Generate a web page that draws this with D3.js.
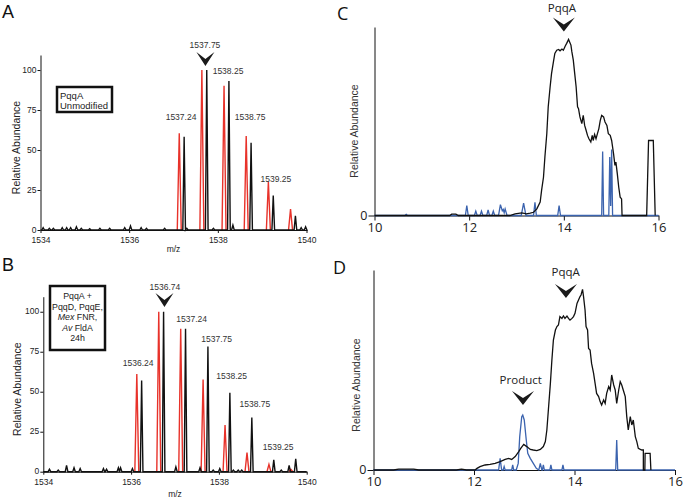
<!DOCTYPE html>
<html><head><meta charset="utf-8">
<script src="https://cdn.jsdelivr.net/npm/d3@7"></script>
<style>
body{margin:0;background:#fff;}
svg{display:block;font-family:"Liberation Sans",Arial,sans-serif;}
</style></head><body>
<svg id="chart" width="683" height="500"></svg>
<script>
// ---------------- DATA ----------------
const mzTicks = [1534, 1536, 1538, 1540];
const abundTicks = [0, 25, 50, 75, 100];
const timeTicks = [10, 12, 14, 16];
const zeroTick = [0];

// Panel A: PqqA unmodified
const aBlackMz = [1537.24, 1537.75, 1538.25, 1538.75, 1539.25, 1539.75];
const aBlackAb = [58.3, 100, 93.1, 54.6, 21.5, 8.8];
const aRedMz = [1537.13, 1537.64, 1538.14, 1538.64, 1539.14, 1539.64];
const aRedAb = [60.4, 100, 90.2, 58.8, 30.2, 13.1];
const aNoiseMz = [1534.06, 1534.20, 1534.29, 1534.49, 1534.59, 1534.68, 1534.81, 1534.92, 1535.11, 1535.34, 1535.56, 1535.90, 1536.03, 1536.27, 1536.39, 1536.80, 1537.30, 1537.90, 1538.34, 1539.88, 1539.98];
const aNoiseAb = [1.5, 1, 1, 1.5, 1.5, 1.5, 2, 1, 0.8, 1, 1, 1.5, 2.5, 1.5, 1, 1, 1, 1, 3, 1.5, 2];
const aLabels = ["1537.24", "1537.75", "1538.25", "1538.75", "1539.25"];
const aBoxLines = ["PqqA", "Unmodified"];

// Panel B: PqqA + PqqD, PqqE, Mex FNR, Av FldA, 24h
const bBlackMz = [1536.24, 1536.74, 1537.24, 1537.75, 1538.25, 1538.75, 1539.25, 1539.60, 1539.75];
const bBlackAb = [57, 100, 89.4, 78.3, 49.4, 33.8, 7.5, 4, 8.1];
const bRedMz = [1536.13, 1536.63, 1537.13, 1537.64, 1538.14, 1538.64, 1539.14, 1539.64];
const bRedAb = [61, 100, 89.4, 57.7, 29.2, 11.9, 4.6, 1.5];
const bNoiseMz = [1534.14, 1534.34, 1534.53, 1534.70, 1534.84, 1535.37, 1535.44, 1535.71, 1535.76, 1536.03, 1537.02, 1537.57, 1537.87, 1538.02, 1538.33, 1538.44, 1538.52, 1539.42];
const bNoiseAb = [1.5, 1, 4, 2.5, 2, 2, 1.5, 2.5, 2.5, 2, 3, 2.5, 1, 2, 1, 1, 1, 1];
const bLabels = ["1536.24", "1536.74", "1537.24", "1537.75", "1538.25", "1538.75", "1539.25"];
const bBoxLines = [["PqqA +"], ["PqqD, PqqE,"], ["Mex", " FNR,"], ["Av", " FldA"], ["24h"]];

// Panel C: extracted ion chromatograms (time, relative abundance)
const cBlack = [[10.0,0],[11.59,0],[11.63,0.7],[11.72,0.7],[11.77,0],[12.86,0],[12.97,0.9],[13.11,1.4],[13.21,0.9],[13.29,1.2],[13.36,1.7],[13.43,3.5],[13.50,7.1],[13.53,13.3],[13.57,20.3],[13.60,31.0],[13.64,43.4],[13.67,57.6],[13.71,68.2],[13.74,75.3],[13.78,81.5],[13.81,86.0],[13.85,87.7],[13.89,88.1],[13.92,87.4],[13.96,88.3],[13.99,87.7],[14.03,89.9],[14.06,91.3],[14.10,93.4],[14.12,92.2],[14.15,90.4],[14.17,86.8],[14.20,82.4],[14.23,75.3],[14.26,68.2],[14.29,57.6],[14.31,56.7],[14.34,52.3],[14.38,48.7],[14.41,53.1],[14.44,47.8],[14.47,45.2],[14.50,42.5],[14.53,40.7],[14.57,39.0],[14.60,42.5],[14.62,39.8],[14.65,43.0],[14.68,40.7],[14.71,43.4],[14.74,46.1],[14.77,50.5],[14.80,53.1],[14.84,52.3],[14.87,49.6],[14.91,47.8],[14.94,43.4],[14.98,42.5],[15.01,39.8],[15.05,32.8],[15.08,26.6],[15.10,28.3],[15.13,22.1],[15.16,15.0],[15.19,9.7],[15.22,8.8],[15.23,0],[15.75,0],[15.79,39.8],[15.89,39.8],[15.93,0]];
const cBlue = [[10.0,0],[10.64,0],[10.67,0.6],[10.70,0],[11.92,0],[11.95,5.3],[11.98,0],[12.11,0],[12.14,2.3],[12.17,0],[12.23,0],[12.26,2.3],[12.29,0],[12.37,0],[12.40,3.0],[12.43,0],[12.48,0],[12.51,2.3],[12.54,0],[12.62,0],[12.66,5.8],[12.70,2.5],[12.72,3.2],[12.74,1.5],[12.76,3.5],[12.80,0],[13.10,0],[13.15,6.6],[13.20,0],[13.36,0],[13.39,7.0],[13.42,0],[13.87,0],[13.90,5.2],[13.93,0],[14.80,0],[14.82,34],[14.84,0],[14.95,0],[14.97,31],[14.99,5],[15.01,35],[15.03,0],[16,0]];

// Panel D
const dBlack = [[10.0,0],[10.4,0],[10.5,0.4],[10.8,0.4],[10.9,0],[11.65,0],[11.75,0.4],[11.85,0],[12.02,0],[12.06,0.8],[12.12,1.7],[12.22,2.5],[12.32,2.8],[12.42,3.3],[12.52,4.2],[12.62,5.3],[12.69,5.8],[12.75,5.3],[12.82,6.7],[12.89,9.2],[12.93,10.8],[12.99,12.8],[13.05,11.7],[13.12,10.3],[13.18,10.0],[13.25,9.7],[13.32,10.3],[13.38,11.7],[13.42,14.2],[13.45,20],[13.48,30],[13.52,43.3],[13.55,55],[13.58,65],[13.62,70],[13.65,71.7],[13.68,72.5],[13.71,76.7],[13.75,75.8],[13.78,77],[13.81,75.8],[13.85,77],[13.88,75.8],[13.91,75],[13.95,75.8],[13.98,76.7],[14.01,78.3],[14.05,83.3],[14.08,85],[14.11,86.7],[14.13,87.5],[14.16,90.3],[14.18,86.7],[14.21,80],[14.23,71.7],[14.26,70],[14.28,60.8],[14.31,60],[14.34,53.3],[14.38,48.3],[14.41,43.3],[14.44,38.3],[14.48,36.7],[14.51,34.2],[14.54,32.5],[14.58,35],[14.61,33.3],[14.64,38.3],[14.68,41.7],[14.71,40],[14.74,47.5],[14.78,42.5],[14.81,40],[14.84,33.3],[14.88,40],[14.91,44.2],[14.94,42.5],[14.97,40],[15.01,36.7],[15.04,26.7],[15.07,20],[15.11,26.7],[15.14,22.5],[15.17,25],[15.21,16.7],[15.24,14.2],[15.27,10.8],[15.31,10.3],[15.34,10],[15.37,10],[15.37,0],[15.40,0],[15.405,8.3],[15.505,8.3],[15.52,0]];
const dBlue = [[10,0],[12.49,0],[12.52,5.8],[12.55,0],[12.58,0],[12.60,1.7],[12.62,0],[12.75,0],[12.77,2.5],[12.79,0],[12.84,0],[12.88,3.3],[12.91,16.7],[12.95,26.7],[12.97,27.5],[13.0,25],[13.04,15],[13.07,8.3],[13.12,5.8],[13.18,3.3],[13.24,0.8],[13.29,0],[13.32,3.3],[13.35,0],[13.36,0],[13.38,2.5],[13.40,0],[13.51,0],[13.53,2.5],[13.55,0],[13.75,0],[13.77,2.5],[13.79,0],[14.82,0],[14.84,15],[14.86,0],[16,0]];

// ---------------- DRAWING ----------------
const svg = d3.select("#chart");
const RED = "#e8322a", BLUE = "#3b63ae", INK = "#111";

function chevron(g, cx, cy, w, h) {
  g.append("path")
    .attr("d", `M${cx - w/2},${cy - h}L${cx},${cy}L${cx + w/2},${cy - h}L${cx},${cy - h*0.5}Z`)
    .attr("fill", "#1a1a1a");
}

function styleAxis(sel, size, family) {
  sel.selectAll("path.domain").attr("stroke", INK).attr("stroke-width", 1);
  sel.selectAll(".tick line").attr("stroke", INK).attr("stroke-width", 1);
  sel.selectAll(".tick text").attr("fill", "#222").style("font-size", size + "px").style("font-family", family);
}

function msPanel(cfg) {
  const g = svg.append("g");
  const x = d3.scaleLinear().domain([1534, 1540]).range([cfg.x0, cfg.x1]);
  const y = d3.scaleLinear().domain([0, 109.4]).range([cfg.yb, cfg.yt]);
  const line = d3.line().x(d => x(d[0])).y(d => y(d[1]));

  cfg.redMz.forEach((m, i) => {
    g.append("path").attr("d", line([[m - 0.045, 0], [m, cfg.redAb[i]], [m + 0.045, 0]]))
      .attr("fill", "none").attr("stroke", RED).attr("stroke-width", 1.4).attr("stroke-linejoin", "miter");
  });
  const pk = cfg.blackMz.map((m, i) => [m, cfg.blackAb[i], 0.03])
    .concat(cfg.noiseMz.map((m, i) => [m, cfg.noiseAb[i], 0.03]))
    .sort((a, b) => a[0] - b[0]);
  const pts = [[1534, 0]];
  pk.forEach(p => { pts.push([p[0] - p[2], 0], [p[0], p[1]], [p[0] + p[2], 0]); });
  pts.push([1540, 0]);

  const xa = g.append("g").attr("transform", `translate(0,${cfg.yb})`)
    .call(d3.axisBottom(x).tickValues(mzTicks).tickSize(3).tickSizeOuter(0).tickFormat(d3.format("d")));
  styleAxis(xa, 8.5, "Liberation Sans, Arial, sans-serif");
  xa.selectAll(".tick text").attr("dy", "0.71em").attr("y", 7);
  const ya = g.append("g").attr("transform", `translate(${cfg.x0},0)`)
    .call(d3.axisLeft(y).tickValues(abundTicks).tickSize(3).tickSizeOuter(0));
  styleAxis(ya, 8.5, "Liberation Sans, Arial, sans-serif");
  ya.selectAll(".tick text").attr("x", -4).attr("dy", "0.25em");

  g.append("path").attr("d", line(pts)).attr("fill", "none").attr("stroke", INK).attr("stroke-width", 1.4);

  cfg.labels.forEach((t, i) => {
    const a = cfg.labelPos[i];
    g.append("text").attr("x", x(a[0])).attr("y", y(a[1])).attr("text-anchor", "middle")
      .style("font-size", "8.5px").attr("fill", "#333").text(t);
  });
  chevron(g, x(cfg.chev[0]), y(cfg.chev[1]), 18, 14);

  g.append("text").attr("transform", `translate(${cfg.ylabX},${(cfg.yb + cfg.yt) / 2 + 5}) rotate(-90)`)
    .attr("text-anchor", "middle").style("font-size", "10.5px").attr("fill", "#222").text("Relative Abundance");
  g.append("text").attr("x", (cfg.x0 + cfg.x1) / 2).attr("y", cfg.xlabY).attr("text-anchor", "middle")
    .style("font-size", "8.5px").attr("fill", "#222").text("m/z");
  g.append("text").attr("x", 2).attr("y", cfg.letterY).style("font-size", "18px").attr("fill", "#111").text(cfg.letter);
  return g;
}

function lcPanel(cfg) {
  const g = svg.append("g");
  const x = d3.scaleLinear().domain([10, 16]).range([cfg.x0, cfg.x1]);
  const y = d3.scaleLinear().domain([0, 100]).range([cfg.yb, cfg.yt]);
  const line = d3.line().x(d => x(d[0])).y(d => y(d[1]));
  const fam = "'Open Sans', 'Noto Sans', sans-serif";

  const xa = g.append("g").attr("transform", `translate(0,${cfg.yb})`)
    .call(d3.axisBottom(x).tickValues(timeTicks).tickSize(5).tickSizeOuter(0).tickFormat(d3.format("d")));
  styleAxis(xa, 13, fam);
  xa.selectAll(".tick text").attr("y", 7);
  const ya = g.append("g").attr("transform", `translate(${cfg.x0},0)`)
    .call(d3.axisLeft(y).tickValues(zeroTick).tickSize(6).tickSizeOuter(0));
  styleAxis(ya, 12.5, fam);
  ya.selectAll(".tick text").attr("x", -7).attr("dy", "0.28em");

  g.append("path").attr("d", line(cfg.blue)).attr("fill", "none").attr("stroke", BLUE).attr("stroke-width", 1.3);
  g.append("path").attr("d", line(cfg.black)).attr("fill", "none").attr("stroke", INK).attr("stroke-width", 1.3);

  cfg.notes.forEach(n => {
    g.append("text").attr("x", x(n.lab[0])).attr("y", y(n.lab[1])).attr("text-anchor", "middle")
      .style("font-size", "11.5px").style("font-family", fam).attr("fill", "#222").text(n.text);
    chevron(g, x(n.tip[0]), y(n.tip[1]), 22, 14);
  });

  g.append("text").attr("transform", `translate(${cfg.ylabX},${cfg.ylabY}) rotate(-90)`)
    .attr("text-anchor", "middle").style("font-size", "10.5px").attr("fill", "#333").text("Relative Abundance");
  g.append("text").attr("x", cfg.letterX).attr("y", cfg.letterY).style("font-size", "18px")
    .style("font-family", fam).attr("fill", "#111").text(cfg.letter);
}

// Panel A
const gA = msPanel({
  letter: "A", letterY: 18, x0: 40.5, x1: 306.5, yb: 230, yt: 55, ylabX: 20, xlabY: 252,
  redMz: aRedMz, redAb: aRedAb, blackMz: aBlackMz, blackAb: aBlackAb, noiseMz: aNoiseMz, noiseAb: aNoiseAb,
  labels: aLabels,
  labelPos: [[1537.17, 68.5], [1537.71, 113.5], [1538.23, 97.5], [1538.73, 68.5], [1539.31, 30]],
  chev: [1537.72, 102.5]
});
gA.append("rect").attr("x", 57).attr("y", 87).attr("width", 55).attr("height", 25)
  .attr("fill", "#fff").attr("stroke", "#111").attr("stroke-width", 2.5);
aBoxLines.forEach((t, i) => gA.append("text").attr("x", 60).attr("y", 98.5 + i * 10)
  .style("font-size", "9.5px").attr("fill", "#222").text(t));

// Panel B
const gB = msPanel({
  letter: "B", letterY: 271, x0: 43.3, x1: 306.7, yb: 471.7, yt: 296.7, ylabX: 21, xlabY: 497,
  redMz: bRedMz, redAb: bRedAb, blackMz: bBlackMz, blackAb: bBlackAb, noiseMz: bNoiseMz, noiseAb: bNoiseAb,
  labels: bLabels,
  labelPos: [[1536.16, 66], [1536.77, 113.3], [1537.38, 93.3], [1537.95, 81], [1538.29, 58], [1538.82, 40.4], [1539.35, 13.6]],
  chev: [1536.76, 103]
});
gB.append("rect").attr("x", 50).attr("y", 286).attr("width", 55).attr("height", 64)
  .attr("fill", "#fff").attr("stroke", "#111").attr("stroke-width", 2.5);
bBoxLines.forEach((parts, i) => {
  const t = gB.append("text").attr("x", 77.5).attr("y", 299 + i * 10.5).attr("text-anchor", "middle")
    .style("font-size", "8.8px").attr("fill", "#222");
  parts.forEach((p, j) => t.append("tspan").style("font-style", (parts.length > 1 && j === 0) ? "italic" : "normal").text(p));
});

// Panel C
lcPanel({
  letter: "C", letterX: 337, letterY: 20, x0: 374.5, x1: 658.5, yb: 215.5, yt: 27, ylabX: 358, ylabY: 131,
  black: cBlack, blue: cBlue,
  notes: [{ text: "PqqA", lab: [13.96, 108], tip: [14.0, 97.6] }]
});

// Panel D
lcPanel({
  letter: "D", letterX: 333, letterY: 274, x0: 373.5, x1: 675, yb: 470, yt: 270, ylabX: 360, ylabY: 385,
  black: dBlack, blue: dBlue,
  notes: [{ text: "PqqA", lab: [13.825, 97], tip: [13.83, 86] },
          { text: "Product", lab: [12.93, 43], tip: [12.975, 32.5] }]
});
</script>
</body></html>
